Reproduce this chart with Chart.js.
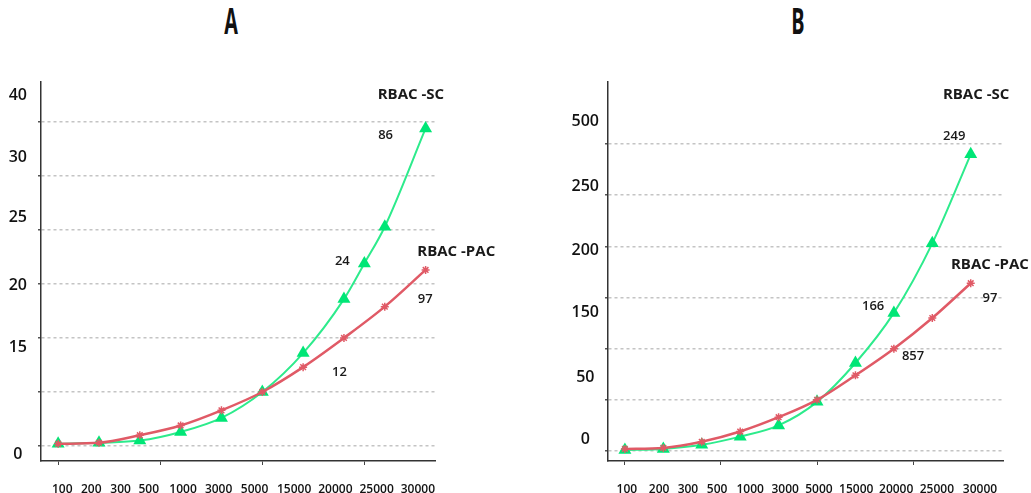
<!DOCTYPE html>
<html>
<head>
<meta charset="utf-8">
<script src="https://cdn.jsdelivr.net/npm/chart.js@4.4.1/dist/chart.umd.min.js"></script>
<style>
  body { margin: 0; background: #fff; }
  #wrap { position: relative; width: 1031px; height: 493px; overflow: hidden; }
  canvas { position: absolute; top: 0; }
  .title {
    position: absolute; top: 3px; width: 60px; text-align: center;
    font-family: "Open Sans"; font-weight: 700; font-size: 36px; line-height: 36px;
    color: #111; transform: scaleX(0.55);
  }
</style>
</head>
<body>
<div id="wrap">
  <div class="title" style="left:201px">A</div>
  <div class="title" style="left:768px">B</div>
  <canvas id="chartA" width="515" height="493" style="left:0"></canvas>
  <canvas id="chartB" width="516" height="493" style="left:515px"></canvas>
</div>
<script>
// x categories (shared by both panels)
var xLabels = ["100", "200", "300", "500", "1000", "3000", "5000", "15000", "20000", "25000", "30000"];
var xTickVals = [0, 2.5, 5, 7.5];
var gridVals = [0, 5, 10, 15, 20, 25, 30];

// panel A
var scA_x = [0, 1, 2, 3, 4, 5, 6, 7, 7.5, 8, 9];
var scA = [0.2, 0.3, 0.5, 1.3, 2.6, 5.0, 8.6, 13.6, 16.9, 20.3, 29.4];
var pacA_x = [0, 1, 2, 3, 4, 5, 6, 7, 8, 9];
var pacA = [0.2, 0.3, 1.0, 1.9, 3.3, 5.0, 7.3, 10.0, 12.9, 16.3];
var xLabelValsA = [0.10, 0.81, 1.53, 2.22, 3.06, 3.93, 4.81, 5.78, 6.79, 7.80, 8.81];
var yLabelsA = ["40", "30", "25", "20", "15", "0"];
var yLabelValsA = [32.5, 26.7, 21.2, 14.9, 9.1, -0.8];
var notesA = ["RBAC -SC", "86", "24", "RBAC -PAC", "97", "12"];
var notesA_x = [8.64, 8.02, 6.96, 9.75, 8.99, 6.89];
var notesA_y = [32.5, 28.8, 17.1, 18.0, 13.6, 6.85];

// panel B
var scB_x = [0, 1, 2, 3, 4, 5, 6, 7, 8, 9];
var scB = [0.1, 0.2, 0.6, 1.4, 2.5, 4.8, 8.6, 13.5, 20.3, 29.0];
var pacB_x = [0, 1, 2, 3, 4, 5, 6, 7, 8, 9];
var pacB = [0.2, 0.3, 0.9, 1.9, 3.3, 5.0, 7.4, 10.0, 13.0, 16.4];
var xLabelValsB = [0.05, 0.89, 1.64, 2.40, 3.26, 4.17, 5.05, 6.02, 7.06, 8.12, 9.24];
var yLabelsB = ["500", "250", "200", "150", "50", "0"];
var yLabelValsB = [32.2, 25.9, 19.6, 13.5, 7.2, 1.1];
var notesB = ["RBAC -SC", "249", "RBAC -PAC", "97", "166", "857"];
var notesB_x = [9.14, 8.57, 9.5, 9.5, 6.46, 7.5];
var notesB_y = [34.8, 30.8, 18.2, 14.9, 14.1, 9.3];

var green = "#00e676";
var greenLine = "#2deb8c";
var red = "#e05a66";

// text labels placed next to the curves
var notesPlugin = {
  id: "notes",
  afterDraw: function (chart, args, o) {
    var ctx = chart.ctx;
    var xs = chart.scales.x, ys = chart.scales.y;
    ctx.save();
    ctx.fillStyle = "#1a1a1a";
    ctx.textAlign = "center";
    ctx.textBaseline = "middle";
    o.texts.forEach(function (t, i) {
      ctx.font = t.indexOf("RBAC") === 0 ? 'bold 15px "Open Sans"' : '600 13px "Open Sans"';
      ctx.fillText(t, xs.getPixelForValue(o.xs[i]), ys.getPixelForValue(o.ys[i]));
    });
    ctx.restore();
  },
};

function points(xs, ys) {
  return xs.map(function (x, i) {
    return { x: x, y: ys[i] };
  });
}

function makeChart(id, p) {
  var ctx = document.getElementById(id);
  return new Chart(ctx, {
    type: "line",
    data: {
      datasets: [
        {
          label: "RBAC -PAC",
          data: points(p.pacX, p.pac),
          borderColor: red,
          backgroundColor: red,
          borderWidth: 2.5,
          pointStyle: "star",
          pointRadius: 4,
          pointBorderWidth: 1.5,
          pointBorderColor: red,
          cubicInterpolationMode: "monotone",
        },
        {
          label: "RBAC -SC",
          data: points(p.scX, p.sc),
          borderColor: greenLine,
          backgroundColor: green,
          borderWidth: 2,
          pointStyle: "triangle",
          pointRadius: 7.5,
          pointBorderWidth: 0,
          cubicInterpolationMode: "monotone",
        },
      ],
    },
    options: {
      responsive: false,
      animation: false,
      layout: { padding: { left: 0, top: 82, right: p.padRight, bottom: 0 } },
      plugins: {
        legend: { display: false },
        tooltip: { enabled: false },
        notes: { texts: p.notes, xs: p.notesX, ys: p.notesY },
      },
      scales: {
        x: {
          type: "linear",
          position: "bottom",
          min: p.xMin,
          max: p.xMax,
          weight: 0,
          afterBuildTicks: function (s) {
            s.ticks = xTickVals.map(function (v) { return { value: v }; });
          },
          afterFit: function (s) { s.height = 0; },
          ticks: { display: false },
          grid: { drawOnChartArea: false, tickLength: 4, color: "#444" },
          border: { color: "#333", width: 1.5 },
        },
        xl: {
          type: "linear",
          position: "bottom",
          min: p.xMin,
          max: p.xMax,
          weight: 1,
          afterBuildTicks: function (s) {
            s.ticks = p.xLabelVals.map(function (v) { return { value: v }; });
          },
          afterFit: function (s) { s.height = 32; },
          grid: { display: false },
          border: { display: false },
          ticks: {
            padding: 13,
            autoSkip: false,
            maxRotation: 0,
            color: "#111",
            font: { family: "Open Sans", size: 12, weight: "600" },
            callback: function (v, i) { return xLabels[i]; },
          },
        },
        y: {
          type: "linear",
          position: "left",
          min: p.yMin,
          max: p.yMax,
          weight: 0,
          afterBuildTicks: function (s) {
            s.ticks = gridVals.map(function (v) { return { value: v }; });
          },
          afterFit: function (s) { s.width = 0; },
          ticks: { display: false },
          grid: { color: "#c4c4c4", lineWidth: 1.5, tickLength: 3, tickColor: "#555", tickBorderDash: [] },
          border: { color: "#333", width: 1.5, dash: [3, 3] },
        },
        yl: {
          type: "linear",
          position: "left",
          min: p.yMin,
          max: p.yMax,
          weight: 1,
          afterBuildTicks: function (s) {
            s.ticks = p.yLabelVals.map(function (v) { return { value: v }; });
          },
          afterFit: function (s) { s.width = p.axisLeft; },
          grid: { display: false },
          border: { display: false },
          ticks: {
            crossAlign: "center",
            padding: p.labelPad,
            color: "#111",
            font: { family: "Open Sans", size: 16, weight: "600" },
            callback: function (v, i) { return p.yLabels[i]; },
          },
        },
      },
    },
    plugins: [notesPlugin],
  });
}

makeChart("chartA", {
  scX: scA_x, sc: scA, pacX: pacA_x, pac: pacA,
  xLabelVals: xLabelValsA,
  yLabels: yLabelsA, yLabelVals: yLabelValsA,
  notes: notesA, notesX: notesA_x, notesY: notesA_y,
  xMin: -0.42, xMax: 9.23, yMin: -1.39, yMax: 33.7,
  axisLeft: 41, labelPad: 6, padRight: 80,
});

makeChart("chartB", {
  scX: scB_x, sc: scB, pacX: pacB_x, pac: pacB,
  xLabelVals: xLabelValsB,
  yLabels: yLabelsB, yLabelVals: yLabelValsB,
  notes: notesB, notesX: notesB_x, notesY: notesB_y,
  xMin: -0.44, xMax: 9.84, yMin: -0.98, yMax: 36.07,
  axisLeft: 93, labelPad: 1, padRight: 28,
});
</script>
</body>
</html>
